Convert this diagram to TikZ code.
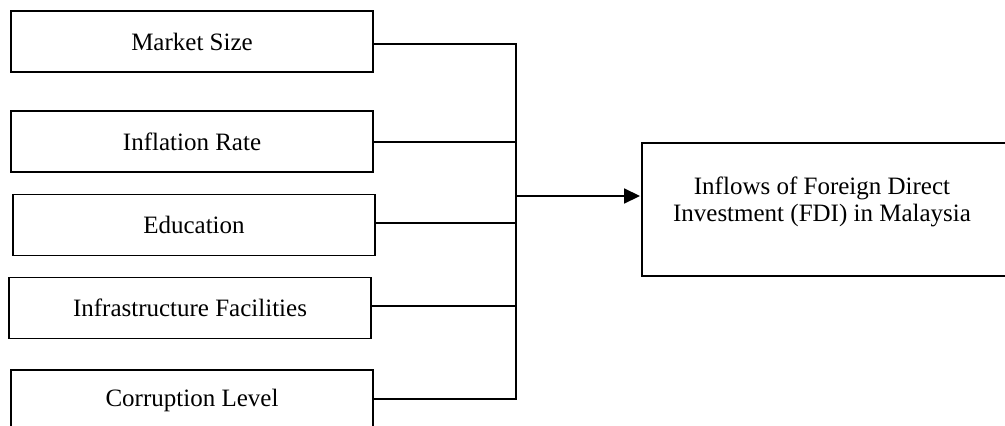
\documentclass[tikz,border=0pt]{standalone}
\usepackage{fontspec}
\setmainfont{Liberation Serif}
\usetikzlibrary{arrows.meta}
\begin{document}
\begin{tikzpicture}[x=1pt,y=-1pt,
  factor/.style={draw=black,line width=1.9pt,minimum width=362pt,minimum height=61pt,inner sep=0pt,
    font=\fontsize{25}{27}\selectfont},
  link/.style={line width=1.7pt},
  txt/.style={align=center,inner sep=0pt,font=\fontsize{25}{27}\selectfont}]
\useasboundingbox (0,0) rectangle (1005,426);
\clip (0,0) rectangle (1005,426);
\node[factor] (ms) at (192,41.5) {Market Size};
\node[factor] (ir) at (192,141.5) {Inflation Rate};
\node[factor] (ed) at (194,225) {Education};
\node[factor] (if) at (190,308) {Infrastructure Facilities};
\node[factor] (cl) at (192,400.5) {Corruption Level};
\node[draw=black,line width=1.9pt,minimum width=368pt,minimum height=133pt,inner sep=0pt] (fdi) at (826,209.5) {};
\node[txt] (fdit) at (822,202) {Inflows of Foreign Direct\\Investment (FDI) in Malaysia};
\coordinate (bt) at (516,44);
\coordinate (bb) at (516,399);
\coordinate (bm) at (516,196);
\draw[link] (ms.east |- bt) -- (bt) -- (bb) -- (cl.east |- bb);
\draw[link] (ir.east |- 0,142) -- (bt |- 0,142);
\draw[link] (ed.east |- 0,223) -- (bt |- 0,223);
\draw[link] (if.east |- 0,306) -- (bt |- 0,306);
\draw[link,-{Triangle[length=16pt,width=15pt]}] (bm) -- ([xshift=-1pt]fdi.west |- bm);
\end{tikzpicture}
\end{document}
